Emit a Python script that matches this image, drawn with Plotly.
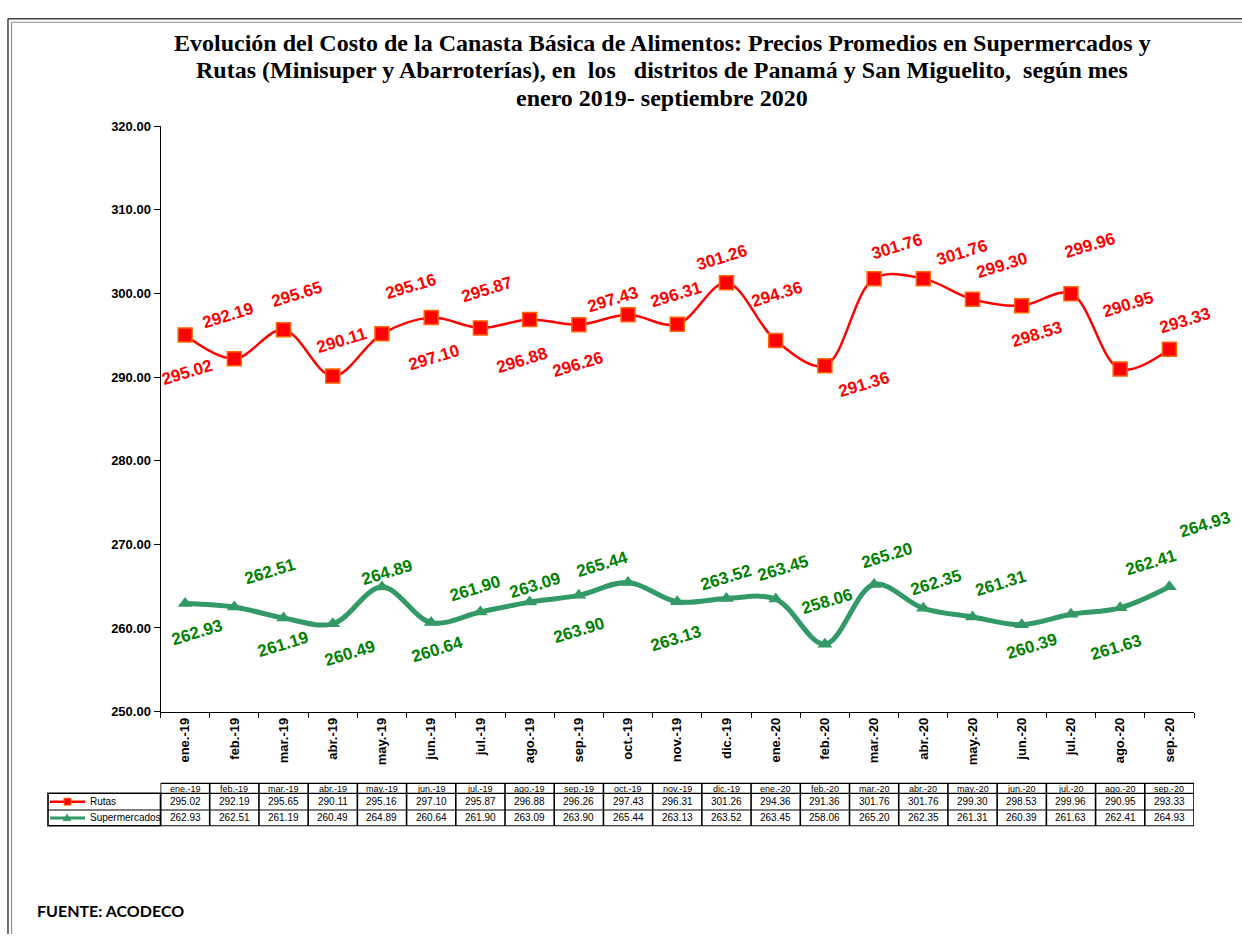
import plotly.graph_objects as go

# ---------------- data ----------------
categories = ["ene.-19", "feb.-19", "mar.-19", "abr.-19", "may.-19", "jun.-19", "jul.-19",
              "ago.-19", "sep.-19", "oct.-19", "nov.-19", "dic.-19", "ene.-20", "feb.-20",
              "mar.-20", "abr.-20", "may.-20", "jun.-20", "jul.-20", "ago.-20", "sep.-20"]
rutas = [295.02, 292.19, 295.65, 290.11, 295.16, 297.10, 295.87, 296.88, 296.26, 297.43,
         296.31, 301.26, 294.36, 291.36, 301.76, 301.76, 299.30, 298.53, 299.96, 290.95, 293.33]
supermercados = [262.93, 262.51, 261.19, 260.49, 264.89, 260.64, 261.90, 263.09, 263.90, 265.44,
                 263.13, 263.52, 263.45, 258.06, 265.20, 262.35, 261.31, 260.39, 261.63, 262.41, 264.93]
y_ticks = [250, 260, 270, 280, 290, 300, 310, 320]

title_lines = [
    "Evolución del Costo de la Canasta Básica de Alimentos: Precios Promedios en Supermercados y",
    "Rutas (Minisuper y Abarroterías), en  los   distritos de Panamá y San Miguelito,  según mes",
    "enero 2019- septiembre 2020",
]
source_text = "FUENTE: ACODECO"

# label placement (pixel offsets: right, down) -- layout only
rutas_label_off = [(2, 37), (-6, -43), (13, -35), (9, -36), (29, -47), (3, 40), (7, -38),
                   (-8, 41), (-1, 40), (-15, -15), (-1, -30), (-4, -25), (1, -46), (39, 19),
                   (23, -32), (39, -26), (29, -34), (15, 29), (19, -48), (8, -65), (16, -29)]
super_label_off = [(12, 29), (36, -35), (-1, 26), (17, 30), (5, -15), (6, 27), (-5, -24),
                   (5, -17), (0, 35), (-26, -18), (-1, 37), (0, -21), (7, -31), (2, -43),
                   (13, -29), (13, -26), (28, -33), (10, 22), (45, 33), (31, -45), (36, -62)]

W, H = 1242, 942
RED = "#FF0000"
GREEN_LINE = "#339966"
GREEN_TXT = "#008000"
SANS = "Liberation Sans, Arial, sans-serif"
SERIF = "Liberation Serif, Times New Roman, serif"


def py(p):
    return 1 - p / H


def px(p):
    return p / W


fig = go.Figure()
fig.add_trace(go.Scatter(
    x=categories, y=supermercados, mode="lines+markers", name="Supermercados",
    line=dict(color=GREEN_LINE, width=5, shape="spline", smoothing=1),
    marker=dict(symbol="triangle-up", size=13, color=GREEN_LINE),
    hoverinfo="x+y"))
fig.add_trace(go.Scatter(
    x=categories, y=rutas, mode="lines+markers", name="Rutas",
    line=dict(color=RED, width=2.5, shape="spline", smoothing=1),
    marker=dict(symbol="square", size=14, color=RED, line=dict(color="#FF6600", width=1.5)),
    hoverinfo="x+y"))

annotations = []
for cat, v, (dx, dy) in zip(categories, rutas, rutas_label_off):
    annotations.append(dict(x=cat, y=v, xref="x", yref="y", text=f"{v:.2f}", showarrow=False,
                            xshift=dx, yshift=-dy, textangle=-17,
                            font=dict(family=SANS, size=17, color=RED, weight="bold")))
for cat, v, (dx, dy) in zip(categories, supermercados, super_label_off):
    annotations.append(dict(x=cat, y=v, xref="x", yref="y", text=f"{v:.2f}", showarrow=False,
                            xshift=dx, yshift=-dy, textangle=-17,
                            font=dict(family=SANS, size=17, color=GREEN_TXT, weight="bold")))

# title (one annotation per line for tight line spacing)
for line, cy in zip(title_lines, (37, 64.5, 92)):
    annotations.append(dict(x=px(662), y=py(cy), xref="paper", yref="paper", xanchor="center",
                            yanchor="middle", showarrow=False, text=line,
                            font=dict(family=SERIF, size=24, color="black", weight="bold")))
# source
annotations.append(dict(x=px(35), y=py(918), xref="paper", yref="paper", xanchor="left",
                        yanchor="middle", showarrow=False, text=source_text,
                        font=dict(family="Lato, sans-serif", size=16, color="black", weight="bold")))

# ---------------- data table ----------------
T_TOP, T_HDR, T_R1, T_R2 = 789, 799, 816, 832
LEG_L = 48
n = len(categories)
shapes = []
line_k = dict(color="#000000", width=1.2)
for yy in (T_TOP, T_HDR, T_R1, T_R2):
    shapes.append(dict(type="line", xref="x", yref="paper", x0=-0.5, x1=n - 0.5,
                       y0=py(yy), y1=py(yy), line=line_k))
for i in range(n + 1):
    shapes.append(dict(type="line", xref="x", yref="paper", x0=i - 0.5, x1=i - 0.5,
                       y0=py(T_TOP), y1=py(T_R2), line=dict(color="#000000", width=1.6)))
shapes.append(dict(type="rect", xref="paper", yref="paper", x0=px(LEG_L), x1=px(160.5),
                   y0=py(T_R2), y1=py(T_HDR), line=dict(color="#000000", width=1.6)))
shapes.append(dict(type="line", xref="paper", yref="paper", x0=px(LEG_L), x1=px(160.5),
                   y0=py(T_R1), y1=py(T_R1), line=line_k))
ry = (T_HDR + T_R1) / 2
gy = (T_R1 + T_R2) / 2
shapes.append(dict(type="line", xref="paper", yref="paper", x0=px(50), x1=px(85),
                   y0=py(ry), y1=py(ry), line=dict(color=RED, width=2.5)))
shapes.append(dict(type="rect", xref="paper", yref="paper", x0=px(64), x1=px(71),
                   y0=py(ry + 3.5), y1=py(ry - 3.5), fillcolor=RED,
                   line=dict(color="#FF6600", width=1)))
shapes.append(dict(type="line", xref="paper", yref="paper", x0=px(50), x1=px(85),
                   y0=py(gy), y1=py(gy), line=dict(color=GREEN_LINE, width=3)))
shapes.append(dict(type="path", xref="paper", yref="paper",
                   path=f"M {px(63)} {py(gy + 3)} L {px(71)} {py(gy + 3)} L {px(67)} {py(gy - 4)} Z",
                   fillcolor=GREEN_LINE, line=dict(color=GREEN_LINE, width=0.5)))
annotations.append(dict(x=px(88), y=py(ry), xref="paper", yref="paper", xanchor="left",
                        yanchor="middle", showarrow=False, text="Rutas",
                        font=dict(family=SANS, size=10, color="black")))
annotations.append(dict(x=px(88), y=py(gy), xref="paper", yref="paper", xanchor="left",
                        yanchor="middle", showarrow=False, text="Supermercados",
                        font=dict(family=SANS, size=10, color="black")))
for cat, r, s in zip(categories, rutas, supermercados):
    annotations.append(dict(x=cat, y=py(794.5), xref="x", yref="paper", showarrow=False,
                            text=cat, yanchor="middle",
                            font=dict(family=SANS, size=9, color="black")))
    annotations.append(dict(x=cat, y=py(ry), xref="x", yref="paper", showarrow=False,
                            text=f"{r:.2f}", yanchor="middle",
                            font=dict(family=SANS, size=10, color="black")))
    annotations.append(dict(x=cat, y=py(gy), xref="x", yref="paper", showarrow=False,
                            text=f"{s:.2f}", yanchor="middle",
                            font=dict(family=SANS, size=10, color="black")))

# page border (double line top and left)
for off, col, wd in ((8, "#404040", 1.5), (11.5, "#909090", 1.2)):
    shapes.append(dict(type="line", xref="paper", yref="paper", x0=px(off), x1=1,
                       y0=py(off + 4), y1=py(off + 4), line=dict(color=col, width=wd)))
    shapes.append(dict(type="line", xref="paper", yref="paper", x0=px(off), x1=px(off),
                       y0=py(off + 4), y1=0, line=dict(color=col, width=wd)))

fig.update_layout(
    width=W, height=H, autosize=False,
    margin=dict(l=0, r=0, t=0, b=0, pad=0),
    paper_bgcolor="white", plot_bgcolor="white",
    showlegend=False,
    annotations=annotations, shapes=shapes,
    xaxis=dict(type="category", domain=[px(160.5), px(1194)], range=[-0.5, n - 0.5],
               showline=True, linecolor="black", linewidth=1, ticks="outside",
               tickson="boundaries", ticklen=5, tickcolor="black", tickangle=-90,
               tickfont=dict(family=SANS, size=13, color="black", weight="bold"),
               showgrid=False, zeroline=False, fixedrange=True),
    yaxis=dict(domain=[py(716), py(121)], range=[250, 320], tickvals=y_ticks,
               tickformat=".2f", showline=True, linecolor="black", linewidth=1,
               ticks="outside", ticklen=6, tickcolor="black",
               tickfont=dict(family=SANS, size=13, color="black", weight="bold"),
               showgrid=False, zeroline=False, fixedrange=True),
)

reset_js = ("document.documentElement.style.margin='0';document.documentElement.style.padding='0';"
            "document.body.style.margin='0';document.body.style.padding='0';"
            "document.documentElement.style.overflow='hidden';document.body.style.overflow='hidden';")
fig.write_html("out.html", config={"displayModeBar": False}, post_script=reset_js)
